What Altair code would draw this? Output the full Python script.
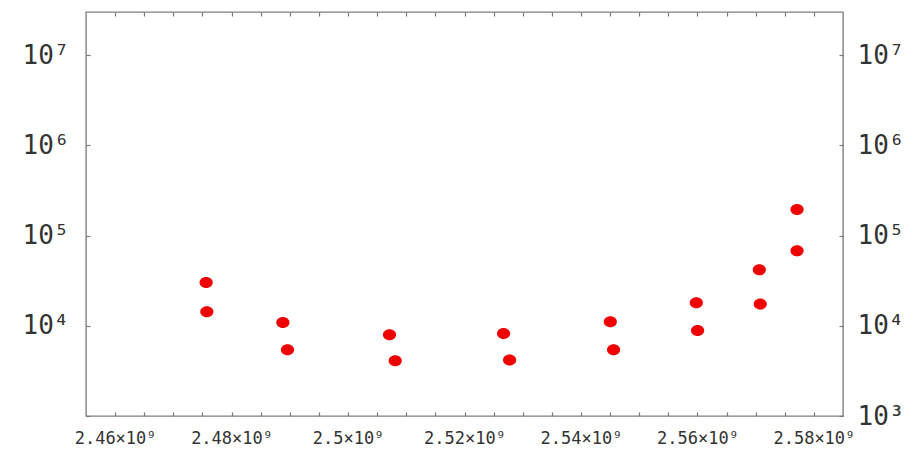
import altair as alt
import pandas as pd

# --- data ---
x_upper = [2.47563e9, 2.48881e9, 2.50712e9, 2.52671e9, 2.54504e9, 2.55981e9, 2.57063e9, 2.57711e9]
y_upper = [30170, 10880, 7950, 8218, 11075, 17970, 41710, 194000]
x_lower = [2.47575e9, 2.48960e9, 2.50810e9, 2.52774e9, 2.54560e9, 2.56003e9, 2.57080e9, 2.57711e9]
y_lower = [14290, 5424, 4097, 4171, 5424, 8872, 17390, 67700]

x_domain = [2.455e9, 2.585e9]
y_domain = [1000, 3.0e7]

x_minor_ticks = [2.460e9, 2.465e9, 2.470e9, 2.475e9, 2.480e9, 2.485e9, 2.490e9, 2.495e9,
                 2.500e9, 2.505e9, 2.510e9, 2.515e9, 2.520e9, 2.525e9, 2.530e9, 2.535e9,
                 2.540e9, 2.545e9, 2.550e9, 2.555e9, 2.560e9, 2.565e9, 2.570e9, 2.575e9,
                 2.580e9]
x_label_values = [2.46e9, 2.48e9, 2.50e9, 2.52e9, 2.54e9, 2.56e9, 2.58e9]
x_label_texts = ["2.46×10⁹", "2.48×10⁹", "2.5×10⁹", "2.52×10⁹", "2.54×10⁹", "2.56×10⁹", "2.58×10⁹"]

y_tick_values = [1e3, 1e4, 1e5, 1e6, 1e7]
y_tick_texts = ["10³", "10⁴", "10⁵", "10⁶", "10⁷"]

df = pd.DataFrame({
    "f": x_upper + x_lower,
    "v": y_upper + y_lower,
})


def x_expr():
    parts = ""
    for v, t in zip(x_label_values, x_label_texts):
        parts += f"abs(datum.value - {v}) < 1e5 ? '{t}' : "
    return parts + "''"


def y_expr(skip_first=False):
    parts = ""
    for i, (v, t) in enumerate(zip(y_tick_values, y_tick_texts)):
        if skip_first and i == 0:
            continue
        parts += f"abs(log(datum.value) - log({v})) < 0.01 ? '{t}' : "
    return parts + "''"


FONT = "DejaVu Sans Mono"
TICK = "#7a7a7a"
LAB = "#333333"

common_axis = dict(domain=False, grid=False, tickSize=4, tickColor=TICK, tickWidth=1.2,
                   labelFont=FONT, labelColor=LAB, title=None, labelOverlap=False,
                   labelFlush=False, offset=-4)

xs = alt.Scale(domain=x_domain, nice=False, zero=False)
ys = alt.Scale(type="log", domain=y_domain, nice=False)

ELLIPSE = "M -1.2 0 A 1.2 1 0 1 0 1.2 0 A 1.2 1 0 1 0 -1.2 0 Z"

pts = alt.Chart(df).mark_point(shape=ELLIPSE, size=121, filled=True, color="#f00000",
                               opacity=1).encode(
    x=alt.X("f:Q", scale=xs, axis=alt.Axis(orient="bottom", values=x_minor_ticks,
                                            labelExpr=x_expr(), labelFontSize=17,
                                            labelPadding=14, **common_axis)),
    y=alt.Y("v:Q", scale=ys, axis=alt.Axis(orient="left", values=y_tick_values,
                                            labelExpr=y_expr(skip_first=True), labelFontSize=26,
                                            labelPadding=17, **common_axis)),
)

mirror = alt.Chart(df).mark_circle(size=1, opacity=0).encode(
    x=alt.X("f:Q", scale=xs, axis=alt.Axis(orient="top", values=x_minor_ticks,
                                            labelExpr="''", labelFontSize=17, **common_axis)),
    y=alt.Y("v:Q", scale=ys, axis=alt.Axis(orient="right", values=y_tick_values,
                                            labelExpr=y_expr(), labelFontSize=26,
                                            labelPadding=14, **common_axis)),
)

chart = alt.layer(pts, mirror).resolve_scale(x="independent", y="independent").properties(
    width=757, height=404,
    autosize=alt.AutoSizeParams(type="none"),
    padding={"left": 86, "top": 12, "right": 74, "bottom": 33},
    background="white",
).configure_view(stroke="#808080", strokeWidth=1.4)

chart.save("out.html", embed_options={"renderer": "svg", "actions": False})
